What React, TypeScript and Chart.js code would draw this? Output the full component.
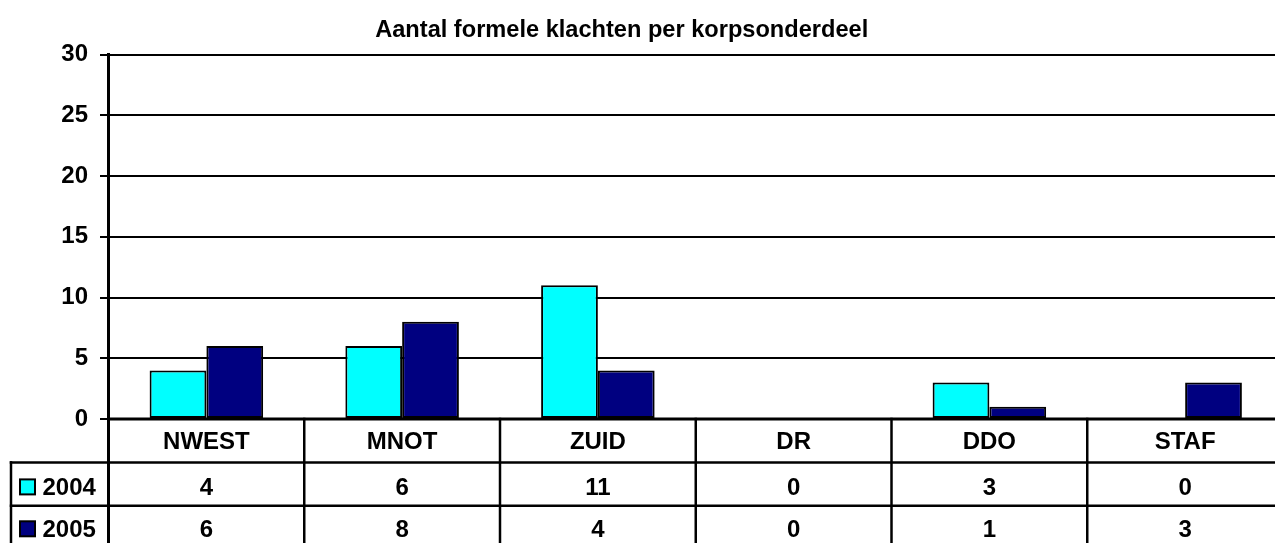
import React, { useEffect, useRef } from "react";
import { Chart, registerables } from "chart.js";

Chart.register(...registerables);

const TITLE = "Aantal formele klachten per korpsonderdeel";
const categories = ["NWEST", "MNOT", "ZUID", "DR", "DDO", "STAF"];
const series2004 = [4, 6, 11, 0, 3, 0];
const series2005 = [6, 8, 4, 0, 1, 3];
const seriesLabels = ["2004", "2005"];
const seriesColors = ["#00FFFF", "#000080"];
const yMin = 0;
const yMax = 30;
const yStep = 5;

const FONT = "Arial, 'Liberation Sans', Helvetica, sans-serif";

const titlePlugin = {
  id: "customTitle",
  afterDraw(chart: any) {
    const ctx = chart.ctx;
    ctx.save();
    ctx.fillStyle = "#000";
    ctx.font = `bold 23.6px ${FONT}`;
    ctx.textAlign = "center";
    ctx.textBaseline = "alphabetic";
    ctx.fillText(TITLE, 621.7, 36.7);
    ctx.restore();
  },
};

const tablePlugin = {
  id: "dataTable",
  afterDraw(chart: any) {
    const ctx = chart.ctx;
    const { left, right, bottom } = chart.chartArea;
    const xs = chart.scales.x;
    const n = categories.length;
    const cw = (right - left) / n;
    const rowH = 43.4;
    const r0 = bottom;
    const r1 = r0 + rowH;
    const r2 = r1 + rowH;
    const r3 = r2 + rowH;
    const legendLeft = 11;
    const seg = (x1: number, y1: number, x2: number, y2: number) => {
      ctx.beginPath();
      ctx.moveTo(x1, y1);
      ctx.lineTo(x2, y2);
      ctx.stroke();
    };
    ctx.save();
    ctx.strokeStyle = "#000";
    ctx.lineWidth = 3;
    ctx.lineCap = "square";
    seg(left, r0, right + 10, r0);
    ctx.lineWidth = 2.5;
    seg(legendLeft, r1, right + 10, r1);
    seg(legendLeft, r2, right + 10, r2);
    seg(legendLeft, r3, right + 10, r3);
    ctx.lineWidth = 3;
    seg(left, r0, left, r3);
    ctx.lineWidth = 2.5;
    seg(legendLeft, r1, legendLeft, r3);
    for (let i = 1; i < n; i++) {
      const x = left + i * cw;
      seg(x, r0, x, r3);
    }

    ctx.fillStyle = "#000";
    ctx.font = `bold 24px ${FONT}`;
    ctx.textAlign = "center";
    ctx.textBaseline = "alphabetic";
    categories.forEach((c, i) => ctx.fillText(c, xs.getPixelForValue(i), r0 + 30));
    const rows = [
      { label: seriesLabels[0], color: seriesColors[0], data: series2004, base: r1 + 33 },
      { label: seriesLabels[1], color: seriesColors[1], data: series2005, base: r2 + 31.5 },
    ];
    rows.forEach((row) => {
      ctx.fillStyle = "#000";
      ctx.textAlign = "center";
      row.data.forEach((v, i) => ctx.fillText(String(v), xs.getPixelForValue(i), row.base));
      ctx.textAlign = "left";
      ctx.fillText(row.label, 42.5, row.base);
      ctx.fillStyle = row.color;
      ctx.fillRect(20, row.base - 16, 15, 15);
      ctx.lineWidth = 2;
      ctx.strokeStyle = "#000";
      ctx.strokeRect(20, row.base - 16, 15, 15);
    });
    ctx.restore();
  },
};

export default function App() {
  const ref = useRef<HTMLCanvasElement | null>(null);
  useEffect(() => {
    if (!ref.current) return;
    const chart = new Chart(ref.current, {
      type: "bar",
      data: {
        labels: categories,
        datasets: [
          {
            label: seriesLabels[0],
            data: series2004,
            backgroundColor: seriesColors[0],
            borderColor: "#000",
            borderWidth: 2,
            borderSkipped: false,
            categoryPercentage: 0.58,
            barPercentage: 1,
          },
          {
            label: seriesLabels[1],
            data: series2005,
            backgroundColor: seriesColors[1],
            borderColor: "#000",
            borderWidth: 2,
            borderSkipped: false,
            categoryPercentage: 0.58,
            barPercentage: 1,
          },
        ],
      },
      options: {
        animation: false,
        responsive: false,
        maintainAspectRatio: false,
        layout: { padding: { top: 54.5, bottom: 124, left: 0, right: 7 } },
        plugins: {
          legend: { display: false },
          title: { display: false },
          tooltip: { enabled: false },
        },
        scales: {
          x: { display: false },
          y: {
            min: yMin,
            max: yMax,
            ticks: {
              stepSize: yStep,
              color: "#000",
              padding: 12,
              font: { family: FONT, size: 24, weight: "bold" },
            },
            grid: {
              color: "#000",
              lineWidth: 2,
              drawTicks: true,
              tickLength: 8.5,
              tickColor: "#000",
              tickWidth: 2,
            },
            border: { display: true, color: "#000", width: 3 },
            afterFit: (scale: any) => {
              scale.width = 108.5;
            },
          },
        },
      },
      plugins: [titlePlugin, tablePlugin],
    });
    return () => chart.destroy();
  }, []);
  return (
    <div
      style={{
        position: "fixed",
        left: 0,
        top: 0,
        width: 1275,
        height: 543,
        overflow: "hidden",
        background: "#fff",
      }}
    >
      <canvas ref={ref} width={1290} height={543} style={{ display: "block" }} />
    </div>
  );
}
